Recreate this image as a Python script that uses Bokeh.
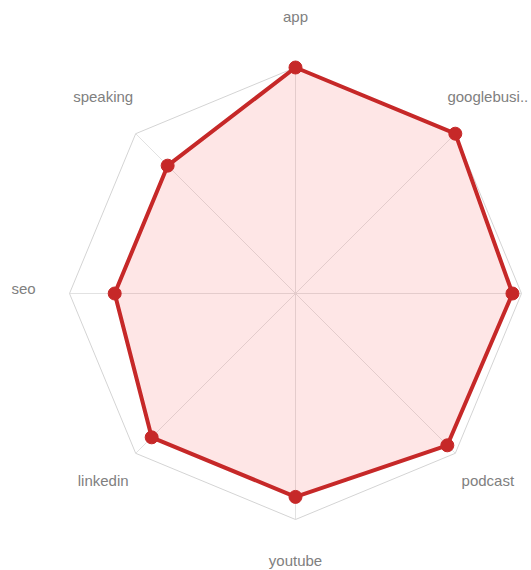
import numpy as np
from bokeh.plotting import figure
from bokeh.models import Range1d
from bokeh.embed import file_html
from bokeh.resources import INLINE
from bokeh.core.properties import value

# ---- data ----
categories = ["app", "googlebusi..", "", "podcast", "youtube", "linkedin", "seo", "speaking"]
scores = [100, 100, 96, 95, 90, 90, 80, 80]
scale_max = 100

# ---- geometry (screen pixels, centre of radar at origin) ----
R = 226
LABEL_R = 272
n = len(categories)
theta = np.arange(n) * 2 * np.pi / n
ux, uy = np.sin(theta), np.cos(theta)

p = figure(width=531, height=570, output_backend="svg", toolbar_location=None,
           x_range=Range1d(-295, 236), y_range=Range1d(-277, 293),
           x_axis_type=None, y_axis_type=None, min_border=0,
           outline_line_color=None, background_fill_color="white",
           border_fill_color="white")
p.grid.visible = False

# grid: spokes + outer ring
p.segment(np.zeros(n), np.zeros(n), R * ux, R * uy, line_color="#e2e2e2", line_width=1)
p.patch(list(R * ux), list(R * uy), fill_color=None, line_color="#d4d4d4", line_width=1)

# data polygon
r = np.array(scores) / scale_max * R
p.patch(list(r * ux), list(r * uy), fill_color=(250, 60, 60), fill_alpha=0.13,
        line_color="#c62828", line_width=4, line_join="round")
p.scatter(r * ux, r * uy, size=13, fill_color="#c62828", line_color="#c62828")

# labels
p.text(LABEL_R * ux, LABEL_R * uy, text=categories, text_align="center",
       text_baseline="alphabetic", y_offset=-5, text_font=value("Liberation Sans"),
       text_font_size="15px", text_color="#808080")

open("out.html", "w").write(file_html(p, INLINE))
